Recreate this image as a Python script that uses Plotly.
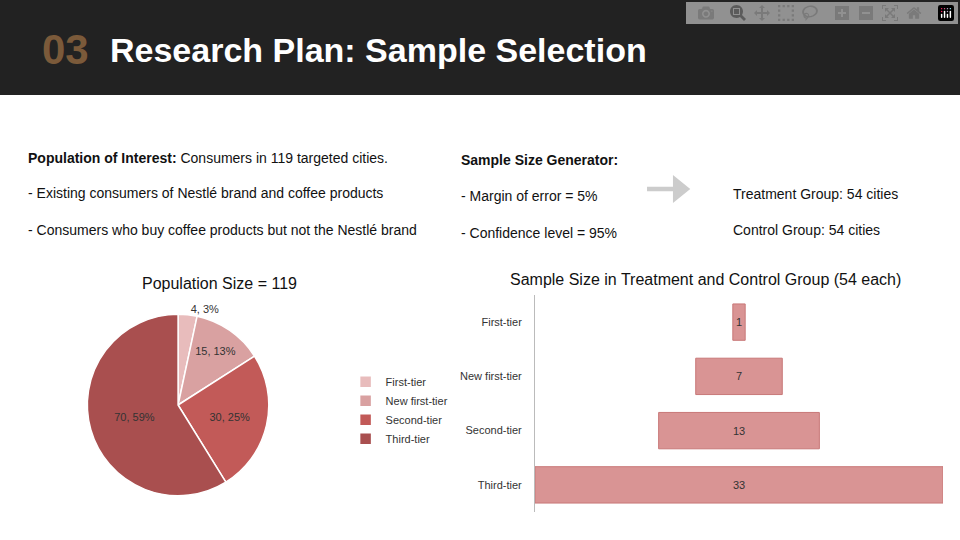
import plotly.graph_objects as go

tiers = ["First-tier", "New first-tier", "Second-tier", "Third-tier"]
pop_values = [4, 15, 30, 70]
sample_values = [1, 7, 13, 33]
pie_colors = ["#e8bcbc", "#d9a1a1", "#c25a58", "#a94f4f"]

fig = go.Figure()

fig.add_trace(go.Pie(
    labels=tiers, values=pop_values, sort=False, direction="clockwise", rotation=0,
    marker=dict(colors=pie_colors, line=dict(color="white", width=1.5)),
    texttemplate="%{value}, %{percent:.0%}",
    textposition=["outside", "inside", "inside", "inside"],
    insidetextorientation="horizontal",
    textfont=dict(size=11, color="#333", family="Arial"),
    domain=dict(x=[0.088, 0.283], y=[0.082, 0.418]),
    showlegend=True,
))

fig.add_trace(go.Funnel(
    y=tiers, x=sample_values, textinfo="value",
    textposition="inside", textfont=dict(size=11, color="#333", family="Arial"),
    marker=dict(color="#d99494", line=dict(color="#c87878", width=1)),
    connector=dict(visible=False), showlegend=False,
))

fig.update_layout(
    width=960, height=540, margin=dict(l=0, r=0, t=0, b=0),
    paper_bgcolor="white", plot_bgcolor="white",
    font=dict(family="Arial", color="#222"),
    funnelgap=0.33,
    uniformtext=dict(minsize=11, mode="show"),
    xaxis=dict(domain=[535/960, 943/960], visible=False, range=[-16.5, 16.5]),
    yaxis=dict(domain=[28/540, 245/540], tickfont=dict(size=11, color="#333"),
               showline=True, linecolor="#bbb", ticks="", ticklabelstandoff=10),
    legend=dict(x=0.36, y=0.32, xanchor="left", yanchor="top",
                font=dict(size=11, color="#333"), itemwidth=30, tracegroupgap=0),
    shapes=[
        dict(type="rect", xref="paper", yref="paper", x0=0, x1=1, y0=445/540, y1=1,
             fillcolor="#222222", line=dict(width=0), layer="below"),
        dict(type="path", xref="paper", yref="paper",
             path="M 0.674,0.646 L 0.701,0.646 L 0.701,0.624 L 0.719,0.650 L 0.701,0.676 L 0.701,0.654 L 0.674,0.654 Z",
             fillcolor="#cccccc", line=dict(width=0)),
    ],
)

def txt(x, y, s, size=14, color="#111", anchor="left"):
    fig.add_annotation(x=x/960, y=1-y/540, xref="paper", yref="paper", text=s,
                       showarrow=False, xanchor=anchor, yanchor="middle",
                       font=dict(size=size, color=color, family="Arial"))

txt(40, 50, "<b>03</b>", 42, "#7b5a3a")
txt(108, 50, "<b>Research Plan: Sample Selection</b>", 34, "white")
txt(26, 158, "<b>Population of Interest:</b> Consumers in 119 targeted cities.", 14)
txt(26, 193, "- Existing consumers of Nestlé brand and coffee products", 14)
txt(26, 230, "- Consumers who buy coffee products but not the Nestlé brand", 14)
txt(459, 160, "<b>Sample Size Generator:</b>", 14)
txt(459, 196, "- Margin of error = 5%", 14)
txt(459, 233, "- Confidence level = 95%", 14)
txt(731, 194, "Treatment Group: 54 cities", 14)
txt(731, 230, "Control Group: 54 cities", 14)
txt(219, 283, "Population Size = 119", 16, "#111", "center")
txt(705, 279, "Sample Size in Treatment and Control Group (54 each)", 16, "#111", "center")

fig.write_html("out.html", post_script="document.body.style.margin='0';document.body.style.overflow='hidden';")
